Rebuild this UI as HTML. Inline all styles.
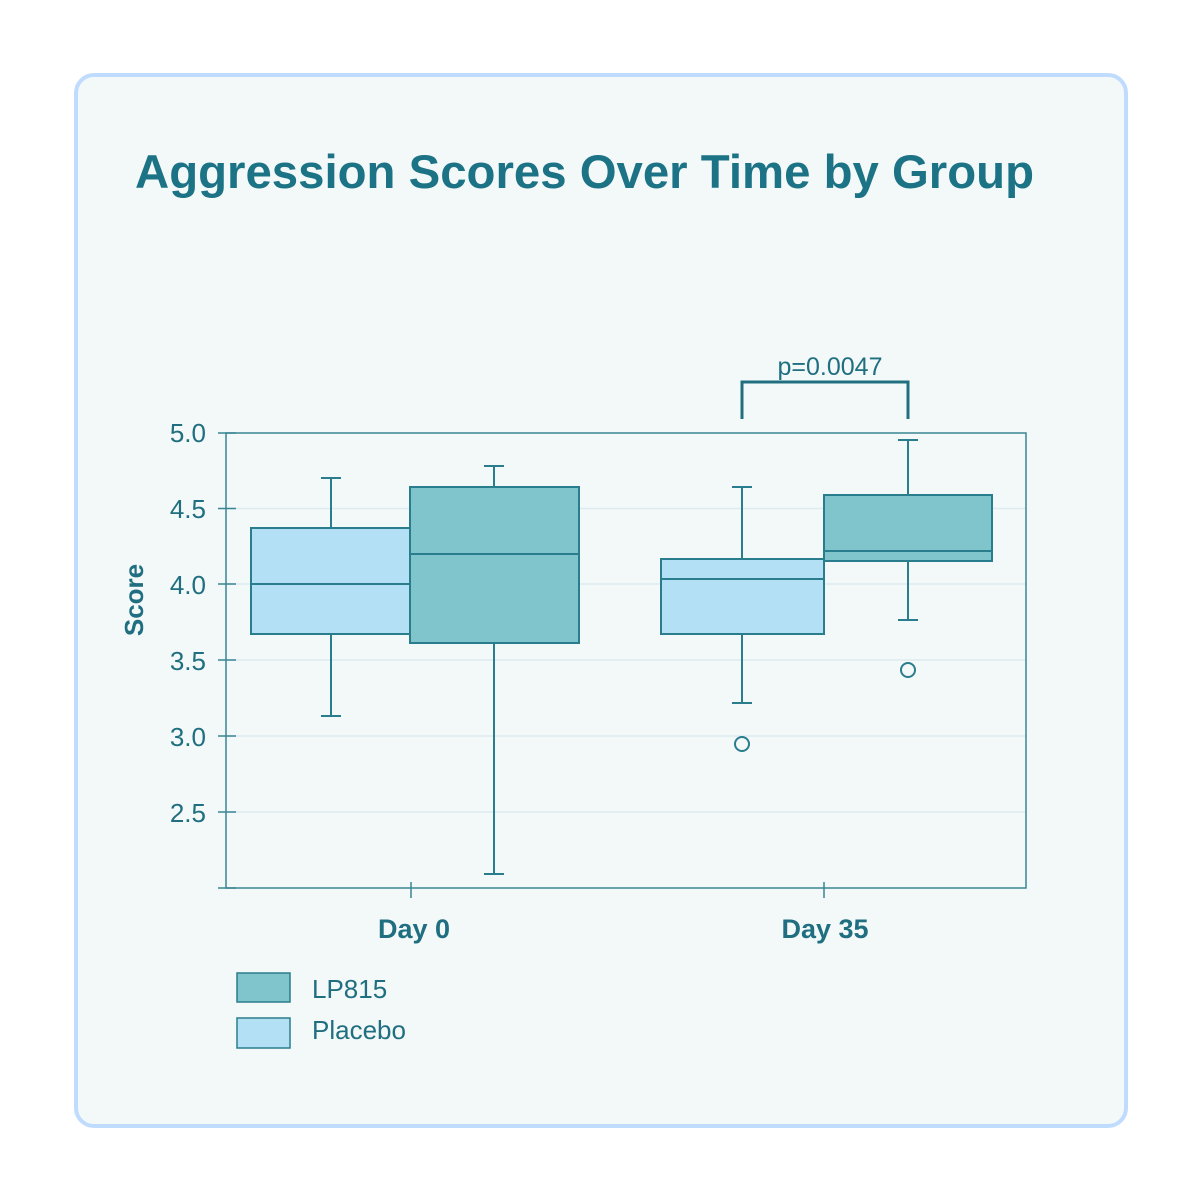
<!DOCTYPE html>
<html><head><meta charset="utf-8"><style>
html,body{margin:0;padding:0;background:#fff;width:1200px;height:1200px;overflow:hidden}
.card{position:absolute;left:74px;top:73px;width:1046px;height:1047px;border:4px solid #bfdcff;border-radius:20px;background:#f3f8f9}
</style></head><body>
<div class="card"></div>
<svg width="1200" height="1200" style="position:absolute;left:0;top:0" font-family="Liberation Sans, sans-serif">
<text x="135" y="188" font-size="47" font-weight="bold" fill="#1b7385" textLength="899" lengthAdjust="spacingAndGlyphs">Aggression Scores Over Time by Group</text>
<g stroke="#dcebf0" stroke-width="1.5">
<line x1="226" x2="1026" y1="508.5" y2="508.5"/><line x1="226" x2="1026" y1="584" y2="584"/>
<line x1="226" x2="1026" y1="660" y2="660"/><line x1="226" x2="1026" y1="736" y2="736"/><line x1="226" x2="1026" y1="812" y2="812"/>
</g>
<rect x="226" y="433" width="800" height="455" fill="none" stroke="#3a8593" stroke-width="1.5"/>
<g stroke="#3a8593" stroke-width="1.5">
<line x1="218" x2="236" y1="433" y2="433"/><line x1="218" x2="236" y1="508.5" y2="508.5"/><line x1="218" x2="236" y1="584" y2="584"/>
<line x1="218" x2="236" y1="660" y2="660"/><line x1="218" x2="236" y1="736" y2="736"/><line x1="218" x2="236" y1="812" y2="812"/><line x1="218" x2="236" y1="888" y2="888"/>
<line x1="411" x2="411" y1="882" y2="898"/><line x1="824" x2="824" y1="882" y2="898"/>
</g>
<g font-size="26" fill="#1f6f80" text-anchor="end">
<text x="206" y="442">5.0</text><text x="206" y="518">4.5</text><text x="206" y="594">4.0</text>
<text x="206" y="670">3.5</text><text x="206" y="746">3.0</text><text x="206" y="822">2.5</text>
</g>
<text transform="translate(143,600) rotate(-90)" text-anchor="middle" font-size="26" font-weight="bold" fill="#1f6f80">Score</text>
<g stroke="#2a7d8c" stroke-width="2">
<line x1="331" x2="331" y1="478" y2="528"/><line x1="331" x2="331" y1="634" y2="716"/>
<line x1="321" x2="341" y1="478" y2="478"/><line x1="321" x2="341" y1="716" y2="716"/>
<rect x="251" y="528" width="159" height="106" fill="#b3e0f4"/><line x1="251" x2="410" y1="584" y2="584"/>
<line x1="494" x2="494" y1="466" y2="487"/><line x1="494" x2="494" y1="643" y2="874"/>
<line x1="484" x2="504" y1="466" y2="466"/><line x1="484" x2="504" y1="874" y2="874"/>
<rect x="410" y="487" width="169" height="156" fill="#80c4cc"/><line x1="410" x2="579" y1="554" y2="554"/>
<line x1="742" x2="742" y1="487" y2="559"/><line x1="742" x2="742" y1="634" y2="703"/>
<line x1="732" x2="752" y1="487" y2="487"/><line x1="732" x2="752" y1="703" y2="703"/>
<rect x="661" y="559" width="163" height="75" fill="#b3e0f4"/><line x1="661" x2="824" y1="579" y2="579"/>
<circle cx="742" cy="744" r="7" fill="none"/>
<line x1="908" x2="908" y1="440" y2="495"/><line x1="908" x2="908" y1="561" y2="620"/>
<line x1="898" x2="918" y1="440" y2="440"/><line x1="898" x2="918" y1="620" y2="620"/>
<rect x="824" y="495" width="168" height="66" fill="#80c4cc"/><line x1="824" x2="992" y1="551" y2="551"/>
<circle cx="908" cy="670" r="7" fill="none"/>
</g>
<polyline points="742,419 742,382 908,382 908,419" fill="none" stroke="#1f6f80" stroke-width="3"/>
<text x="830" y="375" text-anchor="middle" font-size="25" fill="#1f6f80">p=0.0047</text>
<g font-size="27" font-weight="bold" fill="#1f6f80" text-anchor="middle">
<text x="414" y="938">Day 0</text><text x="825" y="938">Day 35</text>
</g>
<rect x="237" y="973" width="53" height="29" fill="#80c4cc" stroke="#2a7d8c" stroke-width="1.5"/>
<rect x="237" y="1018" width="53" height="30" fill="#b3e0f4" stroke="#2a7d8c" stroke-width="1.5"/>
<g font-size="26" fill="#1f6f80">
<text x="312" y="998">LP815</text><text x="312" y="1039">Placebo</text>
</g>
</svg>
</body></html>
